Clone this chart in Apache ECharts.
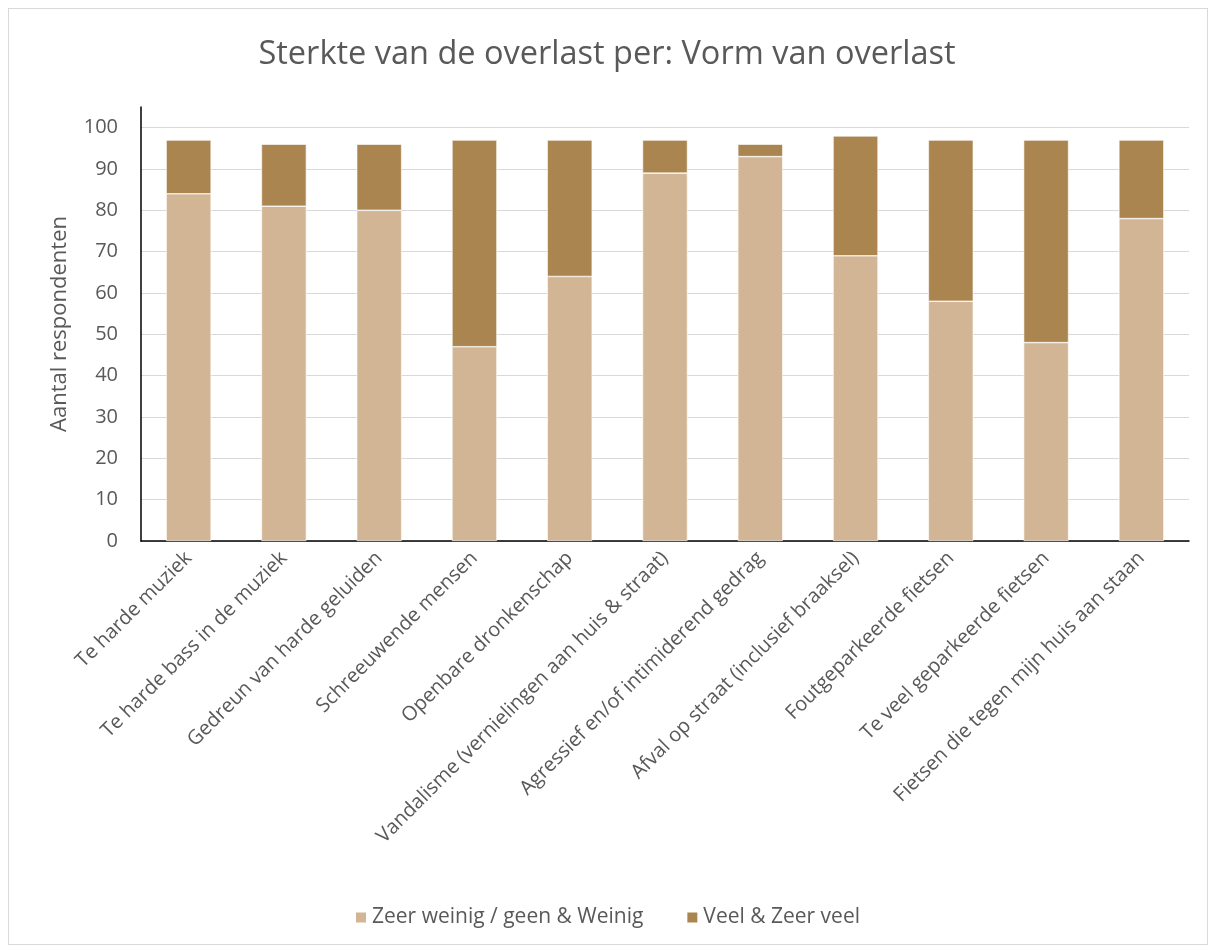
<!DOCTYPE html>
<html>
<head>
<meta charset="utf-8">
<script src="https://cdn.jsdelivr.net/npm/echarts@6/dist/echarts.min.js"></script>
<style>
  html, body { margin: 0; padding: 0; background: #fff; }
  #frame { position: absolute; left: 8px; top: 8px; width: 1198px; height: 935px; border: 1px solid #d9d9d9; }
  #chart { position: absolute; left: 0; top: 0; width: 1214px; height: 949px; }
</style>
</head>
<body>
<div id="frame"></div>
<div id="chart"></div>
<script>
// categorieen (x-as)
var categories = [
  'Te harde muziek',
  'Te harde bass in de muziek',
  'Gedreun van harde geluiden',
  'Schreeuwende mensen',
  'Openbare dronkenschap',
  'Vandalisme (vernielingen aan huis & straat)',
  'Agressief en/of intimiderend gedrag',
  'Afval op straat (inclusief braaksel)',
  'Foutgeparkeerde fietsen',
  'Te veel geparkeerde fietsen',
  'Fietsen die tegen mijn huis aan staan'
];
var seriesNames = ['Zeer weinig / geen & Weinig', 'Veel & Zeer veel'];
var weinig = [84, 81, 80, 47, 64, 89, 93, 69, 58, 48, 78];
var veel = [13, 15, 16, 50, 33, 8, 3, 29, 39, 49, 19];

var textColor = '#595959';
var font = '"Open Sans", "Noto Sans", sans-serif';

var myChart = echarts.init(document.getElementById('chart'));
var options = {
  animation: false,
  title: {
    text: 'Sterkte van de overlast per: Vorm van overlast',
    left: 'center',
    top: 33,
    textStyle: { color: textColor, fontSize: 32.5, fontWeight: 'normal', fontFamily: font }
  },
  legend: {
    bottom: 16,
    left: 'center',
    itemWidth: 12,
    itemHeight: 12,
    itemGap: 42,
    icon: 'rect',
    textStyle: { color: textColor, fontSize: 21, fontFamily: font },
    data: seriesNames
  },
  grid: { left: 141, right: 25, top: 107, bottom: 408 },
  xAxis: {
    type: 'category',
    data: categories,
    axisLine: { lineStyle: { color: '#000', width: 1.5 } },
    axisTick: { show: false },
    axisLabel: { rotate: 45, color: textColor, fontSize: 20, fontFamily: font, margin: 14, interval: 0 }
  },
  yAxis: {
    type: 'value',
    min: 0,
    max: 105,
    interval: 10,
    name: 'Aantal respondenten',
    nameLocation: 'middle',
    nameGap: 70,
    nameTextStyle: { color: textColor, fontSize: 22, fontFamily: font },
    axisLine: { show: true, lineStyle: { color: '#000', width: 1.5 } },
    axisTick: { show: false },
    axisLabel: { color: textColor, fontSize: 20, fontFamily: font, margin: 23, showMaxLabel: false },
    splitLine: { show: true, showMaxLine: false, lineStyle: { color: '#d9d9d9', width: 1 } }
  },
  series: [
    {
      name: seriesNames[0],
      type: 'bar',
      stack: 'total',
      barWidth: 45,
      itemStyle: { color: '#D2B594', borderColor: '#fff', borderWidth: 0.6 },
      data: weinig
    },
    {
      name: seriesNames[1],
      type: 'bar',
      stack: 'total',
      barWidth: 45,
      itemStyle: { color: '#AB854F', borderColor: '#fff', borderWidth: 0.6 },
      data: veel
    }
  ]
};
myChart.setOption(options);
</script>
</body>
</html>
